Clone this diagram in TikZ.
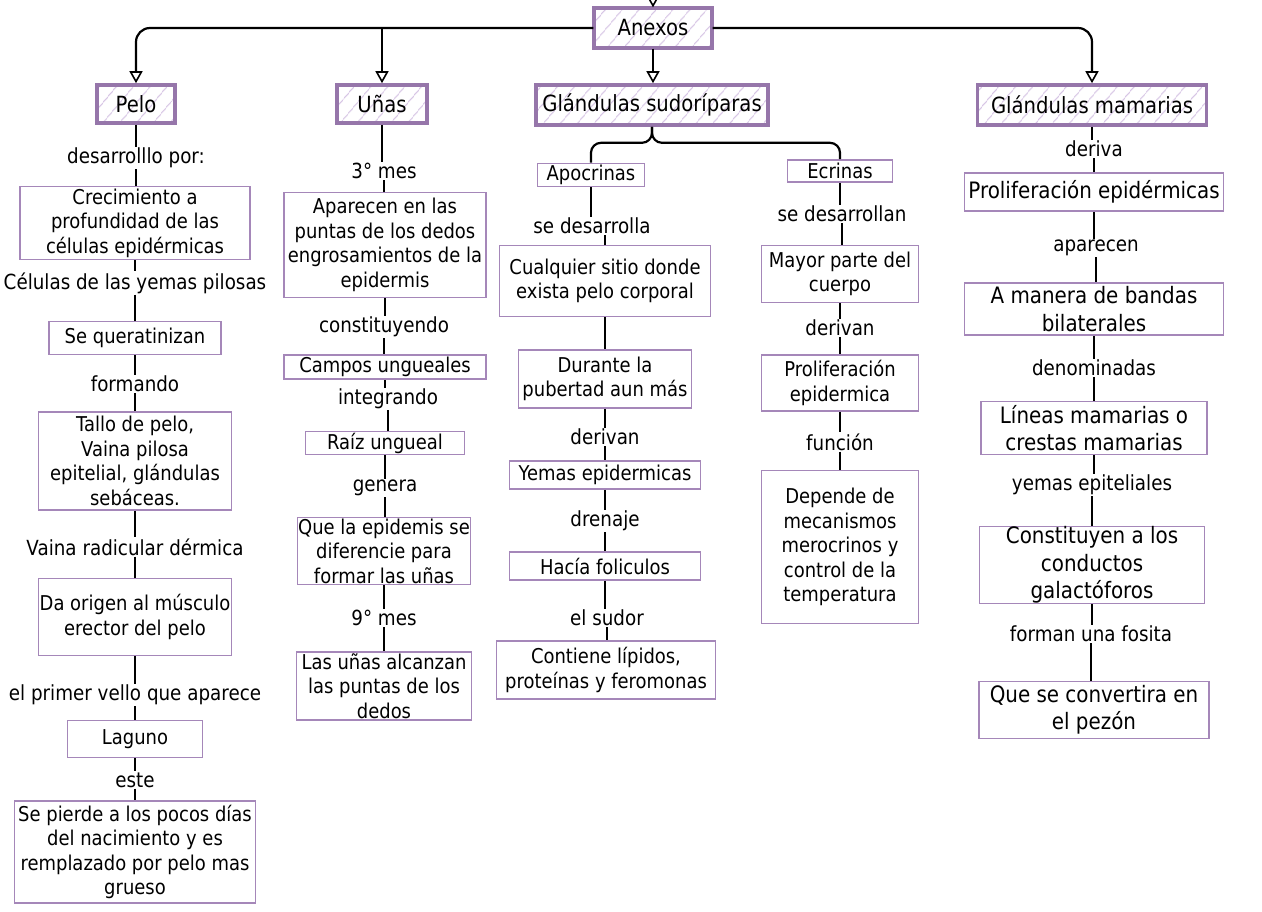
\documentclass[tikz,border=0pt]{standalone}
\usepackage{fontspec}
\setmainfont{DejaVu Sans}[FakeStretch=0.88]
\usetikzlibrary{arrows.meta,patterns.meta}
\definecolor{mainpurple}{RGB}{150,118,170}
\definecolor{subpurple}{RGB}{165,135,185}
\definecolor{hatchc}{RGB}{214,196,228}
\tikzset{
  mainbox/.style={draw=mainpurple, line width=3.6pt,
    pattern={Lines[angle=50,distance=13pt,line width=1.2pt]}, pattern color=hatchc,
    inner sep=0pt, align=center, font=\fontsize{22.3}{25}\selectfont},
  subbox/.style={draw=subpurple, line width=1.6pt, fill=white, inner sep=0pt,
    align=center, font=\fontsize{20.4}{24.6}\selectfont},
  mambox/.style={subbox, font=\fontsize{22.6}{27.5}\selectfont},
  lbl/.style={inner sep=1pt, align=center, font=\fontsize{20.8}{24}\selectfont},
  conn/.style={draw=black, line width=2.2pt},
  arr/.style={conn, -{Triangle[open,width=13pt,length=12pt,line width=1.6pt]}},
  sz/.style 2 args={minimum width=#1, minimum height=#2},
}
\begin{document}
\begin{tikzpicture}[x=1pt,y=-1pt]
\useasboundingbox (0,0) rectangle (1262,912);
% headers
\node[mainbox, sz={118}{40}] (anexos) at (653,28) {Anexos};
\node[mainbox, sz={78}{38}] (pelo) at (136,104) {Pelo};
\node[mainbox, sz={90}{38}] (unas) at (382,104) {Uñas};
\node[mainbox, sz={232}{40}] (sud) at (652,105) {Glándulas sudoríparas};
\node[mainbox, sz={229}{40}] (mam) at (1092,105) {Glándulas mamarias};
\coordinate (topin) at (653,-25);
% Pelo column
\node[lbl] (lp1) at (136,158) {desarrolllo por:};
\node[subbox, sz={230}{73}] (p1) at (135,223) {Crecimiento a\\profundidad de las\\células epidérmicas};
\node[lbl] (lp2) at (135,283) {Células de las yemas pilosas};
\node[subbox, sz={172}{33}] (p2) at (135,338) {Se queratinizan};
\node[lbl] (lp3) at (135,384) {formando};
\node[subbox, sz={193}{98}] (p3) at (135,461) {Tallo de pelo,\\Vaina pilosa\\epitelial, glándulas\\sebáceas.};
\node[lbl] (lp4) at (135,547) {Vaina radicular dérmica};
\node[subbox, sz={193}{77}] (p4) at (135,617) {Da origen al músculo\\erector del pelo};
\node[lbl] (lp5) at (135,695) {el primer vello que aparece};
\node[subbox, sz={135}{37}] (p5) at (135,739) {Laguno};
\node[lbl] (lp6) at (135,780) {este};
\node[subbox, sz={241}{102}] (p6) at (135,852) {Se pierde a los pocos días\\del nacimiento y es\\remplazado por pelo mas\\grueso};
% Unas column
\node[lbl] (lu1) at (384,171) {3° mes};
\node[subbox, sz={202}{105}] (u1) at (385,245) {Aparecen en las\\puntas de los dedos\\engrosamientos de la\\epidermis};
\node[lbl] (lu2) at (384,327) {constituyendo};
\node[subbox, sz={202}{24}] (u2) at (385,367) {Campos ungueales};
\node[lbl] (lu3) at (388,399) {integrando};
\node[subbox, sz={159}{23}] (u3) at (385,443) {Raíz ungueal};
\node[lbl] (lu4) at (385,488) {genera};
\node[subbox, sz={173}{67}] (u4) at (384,551) {Que la epidemis se\\diferencie para\\formar las uñas};
\node[lbl] (lu5) at (384,618) {9° mes};
\node[subbox, sz={175}{68}] (u5) at (384,686) {Las uñas alcanzan\\las puntas de los\\dedos};
% Apocrinas column
\node[subbox, sz={107}{23}] (apo) at (591,175) {Apocrinas};
\node[lbl] (ls1) at (592,226) {se desarrolla};
\node[subbox, sz={211}{71}] (s1) at (605,281) {Cualquier sitio donde\\exista pelo corporal};
\node[subbox, sz={173}{58}] (s2) at (605,379) {Durante la\\pubertad aun más};
\node[lbl] (ls3) at (605,437) {derivan};
\node[subbox, sz={191}{28}] (s3) at (605,475) {Yemas epidermicas};
\node[lbl] (ls4) at (605,521) {drenaje};
\node[subbox, sz={191}{28}] (s4) at (605,566) {Hacía foliculos};
\node[lbl] (ls5) at (607,618) {el sudor};
\node[subbox, sz={219}{58}] (s5) at (606,670) {Contiene lípidos,\\proteínas y feromonas};
% Ecrinas column
\node[subbox, sz={105}{22}] (ecr) at (840,171) {Ecrinas};
\node[lbl] (le1) at (842,214) {se desarrollan};
\node[subbox, sz={157}{57}] (e1) at (840,274) {Mayor parte del\\cuerpo};
\node[lbl] (le2) at (840,328) {derivan};
\node[subbox, sz={157}{56}] (e2) at (840,383) {Proliferación\\epidermica};
\node[lbl] (le3) at (840,442) {función};
\node[subbox, sz={157}{153}] (e3) at (840,547) {Depende de\\mecanismos\\merocrinos y\\control de la\\temperatura};
% Mamarias column
\node[lbl] (lm1) at (1094,149) {deriva};
\node[mambox, sz={259}{38}] (m1) at (1094,192) {Proliferación epidérmicas};
\node[lbl] (lm2) at (1096,248) {aparecen};
\node[mambox, sz={259}{52}] (m2) at (1094,309) {A manera de bandas\\bilaterales};
\node[lbl] (lm3) at (1094,368) {denominadas};
\node[mambox, sz={226}{53}] (m3) at (1094,428) {Líneas mamarias o\\crestas mamarias};
\node[lbl] (lm4) at (1092,485) {yemas epiteliales};
\node[mambox, sz={225}{77}] (m4) at (1092,565) {Constituyen a los\\conductos\\galactóforos};
\node[lbl] (lm5) at (1091,634) {forman una fosita};
\node[mambox, sz={230}{57}] (m5) at (1094,710) {Que se convertira en\\el pezón};
% top connectors
\draw[arr] (topin) -- (anexos.north);
\draw[arr, rounded corners=14pt] (anexos.west) -| (pelo.north);
\draw[arr] (anexos.west -| unas.north) -- (unas.north);
\draw[arr] (anexos.south) -- (anexos.south |- sud.north);
\draw[arr, rounded corners=14pt] (anexos.east) -| (mam.north);
\draw[conn, rounded corners=10pt] (sud.south) -- ++(0,16) -| (apo.north);
\draw[conn, rounded corners=10pt] (sud.south) -- ++(0,16) -| (ecr.north);
% column connectors
\foreach \a/\b in {pelo/lp1,lp1/p1,p1/lp2,lp2/p2,p2/lp3,lp3/p3,p3/lp4,lp4/p4,p4/lp5,lp5/p5,p5/lp6,lp6/p6,
  unas/lu1,lu1/u1,u1/lu2,lu2/u2,u2/lu3,lu3/u3,u3/lu4,lu4/u4,u4/lu5,lu5/u5,
  apo/ls1,s1/s2,s2/ls3,ls3/s3,s3/ls4,ls4/s4,s4/ls5,ls5/s5,
  ecr/le1,le1/e1,e1/le2,le2/e2,e2/le3,le3/e3,
  mam/lm1,lm1/m1,m1/lm2,lm2/m2,m2/lm3,lm3/m3,m3/lm4,lm4/m4,m4/lm5,lm5/m5}
  {\draw[conn] (\a.south) -- (\a.south |- \b.north);}
\draw[conn] (ls1.south -| s1.north) -- (s1.north);
\end{tikzpicture}
\end{document}
